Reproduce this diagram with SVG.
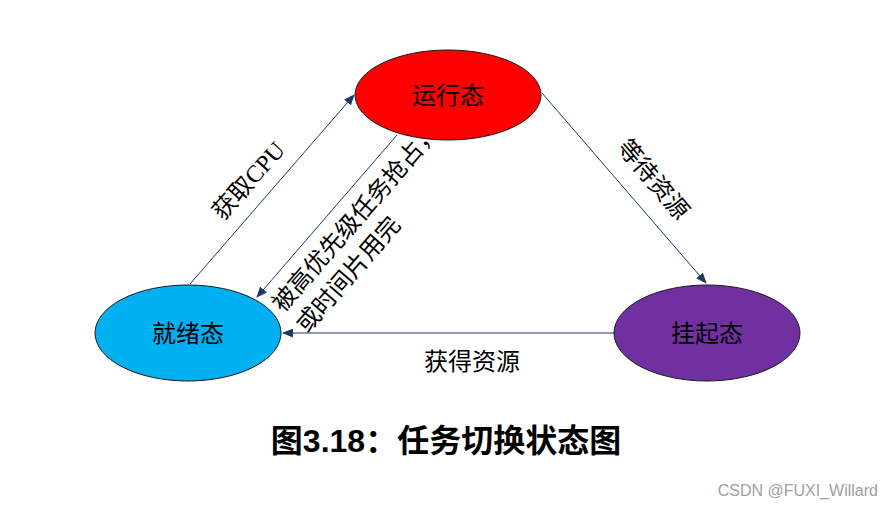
<svg xmlns="http://www.w3.org/2000/svg" width="892" height="508" viewBox="0 0 892 508">
<style>
.node{stroke:#1a1a1a;stroke-width:1}
.nl{font-family:"Liberation Sans","Noto Sans CJK SC",sans-serif;font-size:24px;fill:#000;text-anchor:middle;dominant-baseline:central}
.el{font-family:"Liberation Serif","Noto Sans CJK SC",serif;font-size:24px;fill:#000;dominant-baseline:central}
.conn{stroke:#1f3864;stroke-width:1;fill:none;marker-end:url(#ah)}
</style>
<defs>
<marker id="ah" markerUnits="userSpaceOnUse" markerWidth="11" markerHeight="9" refX="10" refY="4.5" orient="auto">
<path d="M0,0 L11,4.5 L0,9 z" fill="#1f3864"/>
</marker>
</defs>
<rect width="892" height="508" fill="#fff"/>
<g id="edge-labels">
<text class="el" transform="translate(225,207) rotate(-48)" x="-12" y="0">获取CPU</text>
<g transform="translate(285,299) rotate(-49)">
<text class="el" x="-12" y="0">被高优先级任务抢占，</text>
<text class="el" x="-12" y="32">或时间片用完</text>
</g>
<text class="el" transform="translate(630,152) rotate(50)" x="-12" y="0">等待资源</text>
<text class="el" x="472" y="362" text-anchor="middle">获得资源</text>
</g>
<g id="connectors">
<line class="conn" x1="190" y1="284" x2="354" y2="95"/>
<line class="conn" x1="397" y1="135" x2="257" y2="297"/>
<line class="conn" x1="542" y1="93" x2="706" y2="283"/>
<line class="conn" x1="614" y1="333" x2="283" y2="333"/>
</g>
<g id="running">
<ellipse class="node" cx="448" cy="95" rx="93" ry="45" fill="#ff0000"/>
<text class="nl" x="448" y="95">运行态</text>
</g>
<g id="ready">
<ellipse class="node" cx="188" cy="333" rx="93" ry="48" fill="#00b0f0"/>
<text class="nl" x="188" y="333">就绪态</text>
</g>
<g id="suspended">
<ellipse class="node" cx="707" cy="333" rx="93" ry="48" fill="#7030a0"/>
<text class="nl" x="707" y="333">挂起态</text>
</g>
<text x="446" y="441" font-family="'Liberation Sans','Noto Sans CJK SC',sans-serif" font-size="32" font-weight="bold" text-anchor="middle" dominant-baseline="central" fill="#000">图3.18：任务切换状态图</text>
<text x="878" y="490" font-family="'Liberation Sans',Arial,sans-serif" font-size="16" text-anchor="end" dominant-baseline="central" fill="#a0a0a0">CSDN @FUXI_Willard</text>
</svg>
